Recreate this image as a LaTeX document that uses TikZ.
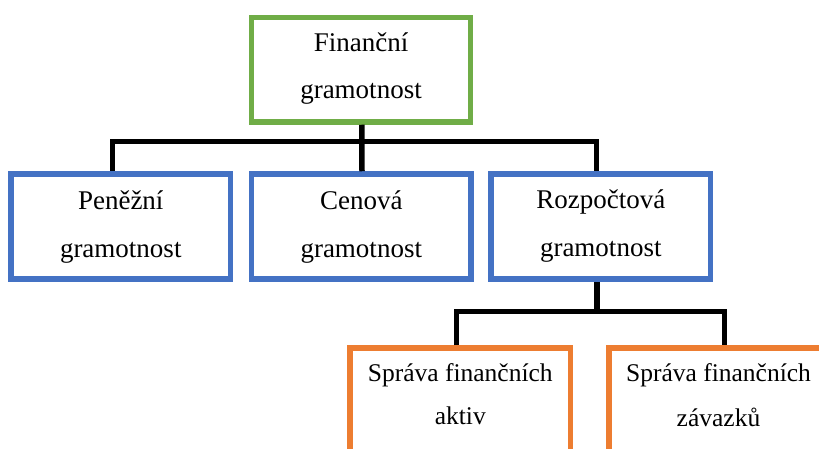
\documentclass[tikz,border=0pt]{standalone}
\usepackage{fontspec}
\setmainfont{Liberation Serif}
\definecolor{boxgreen}{HTML}{70AD47}
\definecolor{boxblue}{HTML}{4472C4}
\definecolor{boxorange}{HTML}{ED7D31}
\begin{document}
\begin{tikzpicture}[x=1pt,y=-1pt,
  box/.style={draw, line width=5.5pt, inner sep=0pt, minimum width=219.5pt, minimum height=105pt},
  txt/.style={anchor=base, inner sep=0pt, text=black, font=\fontsize{27}{32}\selectfont},
  otxt/.style={txt, font=\fontsize{25.5}{30}\selectfont},
  conn/.style={draw=black, line width=5.5pt, line join=miter}]
\useasboundingbox (0,0) rectangle (819,449);
\clip (0,0) rectangle (819,449);
% boxes (shapes)
\node[box, draw=boxgreen, minimum width=219pt, minimum height=104.5pt] (fin) at (361,69.75) {};
\node[box, draw=boxblue] (pen) at (120.75,226.5) {};
\node[box, draw=boxblue] (cen) at (361.25,226.5) {};
\node[box, draw=boxblue] (roz) at (600.75,226.5) {};
\node[box, draw=boxorange, minimum width=220.5pt] (akt) at (460.25,400.5) {};
\node[box, draw=boxorange, minimum width=220.5pt] (zav) at (719.25,400.5) {};
% connector junctions
\coordinate (bus1) at (362,141.5);
\coordinate (bus2) at (597,311.5);
% connectors
\draw[conn] ([xshift=0.75pt]fin.south) -- ([xshift=0.75pt]cen.north);
\draw[conn] ([xshift=-8.25pt]pen.north) |- (bus1) -| ([xshift=-4.25pt]roz.north);
\draw[conn] ([xshift=-3.75pt]roz.south) -- (bus2);
\draw[conn] ([xshift=-3.75pt]akt.north) |- (bus2) -| ([xshift=5.25pt]zav.north);
% texts
\node[txt] (fin1) at (361,52) {Finanční};
\node[txt] (fin2) at (361,98.5) {gramotnost};
\node[txt] (pen1) at (120.75,210) {Peněžní};
\node[txt] (pen2) at (120.75,257) {gramotnost};
\node[txt] (cen1) at (361.25,210) {Cenová};
\node[txt] (cen2) at (361.25,257) {gramotnost};
\node[txt] (roz1) at (600.75,208.5) {Rozpočtová};
\node[txt] (roz2) at (600.75,256.5) {gramotnost};
\node[otxt] (akt1) at (460.25,381) {Správa finančních};
\node[otxt] (akt2) at (460.25,424.5) {aktiv};
\node[otxt] (zav1) at (718.5,381.5) {Správa finančních};
\node[otxt] (zav2) at (718.5,426.5) {závazků};
\end{tikzpicture}
\end{document}
